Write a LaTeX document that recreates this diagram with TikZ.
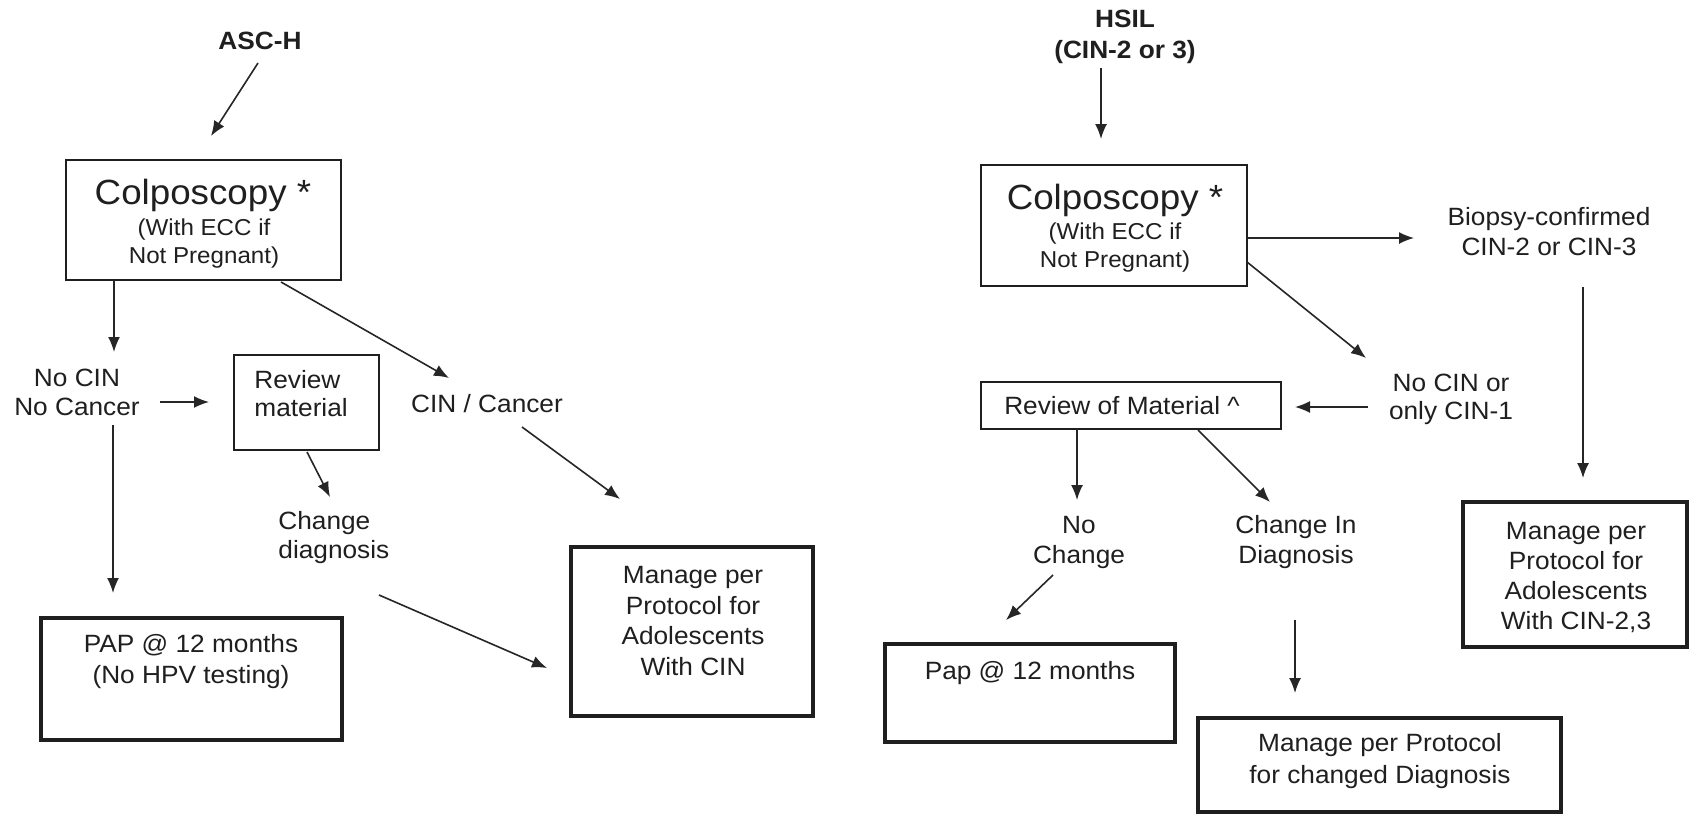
\documentclass[tikz,border=0pt]{standalone}
\usepackage{fontspec}
\setmainfont{Liberation Sans}[FakeStretch=1.05]
\usetikzlibrary{arrows.meta}
\begin{document}
\begin{tikzpicture}[x=0.5pt,y=-0.5pt,
  thinbox/.style={draw=black!88, line width=0.9pt, rectangle, inner sep=0pt},
  thickbox/.style={draw=black!88, line width=1.6pt, rectangle, inner sep=0pt},
  txt/.style={text=black!88, align=center, inner sep=0pt, font=\fontsize{12.5}{#1}\selectfont},
  txt/.default=15,
  lefttxt/.style={text=black!88, align=left, inner sep=0pt, anchor=west, font=\fontsize{12.5}{#1}\selectfont},
  lefttxt/.default=15,
  headtxt/.style={text=black!88, align=center, inner sep=0pt, font=\fontsize{12.5}{15.5}\selectfont\bfseries},
  bigtxt/.style={text=black!88, inner sep=0pt, font=\fontsize{17.5}{20}\selectfont},
  subtxt/.style={text=black!88, align=center, inner sep=0pt, font=\fontsize{11.5}{14}\selectfont},
  flow/.style={draw=black!85, line width=0.8pt, -{Latex[length=7.5pt,width=6pt]}},
]
\fill[white] (0,0) rectangle (1689,814);
\useasboundingbox (0,0) rectangle (1689,814);

% ---------------- ASC-H branch ----------------
\node[headtxt] (asch) at (260,41) {ASC-H};

\node[thinbox, minimum width=137.5pt, minimum height=60pt] (colpoA) at (203.5,220) {};
\node[bigtxt] (colpoAt) at (203,195) {Colposcopy *};
\node[subtxt] (colpoAs) at (204,244) {(With ECC if\\Not Pregnant)};

\node[txt=14.5] (nocinA) at (77,392) {No CIN\\No Cancer};

\node[thinbox, minimum width=72.5pt, minimum height=47.5pt] (reviewA) at (306.5,402.5) {};
\node[lefttxt=14] (reviewAt) at (254,394) {Review\\material};

\node[txt] (cinca) at (487,404) {CIN / Cancer};

\node[lefttxt=14.5] (chgdiag) at (278,538) {Change\\diagnosis};

\node[thickbox, minimum width=150.5pt, minimum height=61pt] (papA) at (191.5,679) {};
\node[txt=15.5] (papAt) at (191,662) {PAP @ 12 months\\(No HPV testing)};

\node[thickbox, minimum width=121pt, minimum height=84.5pt] (mgA) at (692,631.5) {};
\node[txt=15.3] (mgAt) at (693,621) {Manage per\\Protocol for\\Adolescents\\With CIN};

% ---------------- HSIL branch ----------------
\node[headtxt] (hsil) at (1125,37) {HSIL\\(CIN-2 or 3)};

\node[thinbox, minimum width=133pt, minimum height=60.5pt] (colpoB) at (1114,225.5) {};
\node[bigtxt] (colpoBt) at (1115,200) {Colposcopy *};
\node[subtxt] (colpoBs) at (1115,248) {(With ECC if\\Not Pregnant)};

\node[txt] (biopsy) at (1549,232) {Biopsy-confirmed\\CIN-2 or CIN-3};

\node[txt=14] (nocinB) at (1451,399) {No CIN or\\only CIN-1};

\node[thinbox, minimum width=150pt, minimum height=23.5pt] (reviewB) at (1131,405.5) {};
\node[txt] (reviewBt) at (1122,406) {Review of Material \^{}};

\node[thickbox, minimum width=112pt, minimum height=72.5pt] (mgC) at (1575,574.5) {};
\node[txt] (mgCt) at (1576,577) {Manage per\\Protocol for\\Adolescents\\With CIN-2,3};

\node[txt] (nochg) at (1079,542) {No\\Change};
\node[txt] (chgin) at (1296,542) {Change In\\Diagnosis};

\node[thickbox, minimum width=145pt, minimum height=49pt] (papB) at (1030,693) {};
\node[txt] (papBt) at (1030,673) {Pap @ 12 months};

\node[thickbox, minimum width=181.5pt, minimum height=47pt] (mgB) at (1379.5,765) {};
\node[txt=16] (mgBt) at (1380,761) {Manage per Protocol\\for changed Diagnosis};

% ---------------- connector end points ----------------
\coordinate (p1a) at (258,63);   \coordinate (p1b) at (211,136);
\coordinate (p2a) at (114,280);  \coordinate (p2b) at (114,352);
\coordinate (p3a) at (281,282);  \coordinate (p3b) at (449,378);
\coordinate (p4a) at (160,402);  \coordinate (p4b) at (209,402);
\coordinate (p5a) at (307,452);  \coordinate (p5b) at (330,497);
\coordinate (p6a) at (113,425);  \coordinate (p6b) at (113,593);
\coordinate (p7a) at (522,427);  \coordinate (p7b) at (620,499);
\coordinate (p8a) at (379,595);  \coordinate (p8b) at (547,668);
\coordinate (q1a) at (1101,68);  \coordinate (q1b) at (1101,139);
\coordinate (q2a) at (1247,238); \coordinate (q2b) at (1414,238);
\coordinate (q3a) at (1247,262); \coordinate (q3b) at (1366,358);
\coordinate (q4a) at (1583,287); \coordinate (q4b) at (1583,478);
\coordinate (q5a) at (1368,407); \coordinate (q5b) at (1295,407);
\coordinate (q6a) at (1077,429); \coordinate (q6b) at (1077,500);
\coordinate (q7a) at (1198,430); \coordinate (q7b) at (1270,502);
\coordinate (q8a) at (1053,575); \coordinate (q8b) at (1006,620);
\coordinate (q9a) at (1295,620); \coordinate (q9b) at (1295,693);

% ---------------- connectors ----------------
\draw[flow] (p1a) -- (p1b);
\draw[flow] (p2a) -- (p2b);
\draw[flow] (p3a) -- (p3b);
\draw[flow] (p4a) -- (p4b);
\draw[flow] (p5a) -- (p5b);
\draw[flow] (p6a) -- (p6b);
\draw[flow] (p7a) -- (p7b);
\draw[flow] (p8a) -- (p8b);
\draw[flow] (q1a) -- (q1b);
\draw[flow] (q2a) -- (q2b);
\draw[flow] (q3a) -- (q3b);
\draw[flow] (q4a) -- (q4b);
\draw[flow] (q5a) -- (q5b);
\draw[flow] (q6a) -- (q6b);
\draw[flow] (q7a) -- (q7b);
\draw[flow] (q8a) -- (q8b);
\draw[flow] (q9a) -- (q9b);
\end{tikzpicture}
\end{document}
